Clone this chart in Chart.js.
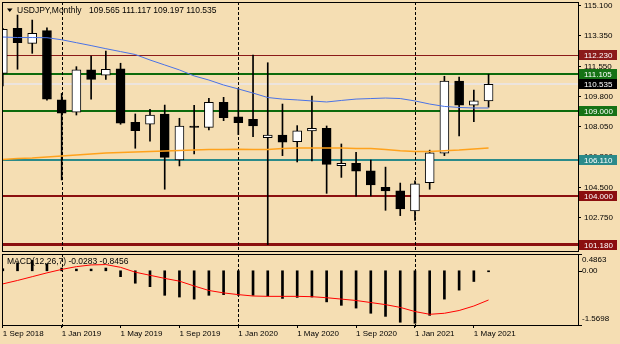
<!DOCTYPE html>
<html>
<head>
<meta charset="utf-8">
<script src="https://cdn.jsdelivr.net/npm/chart.js@4.4.1/dist/chart.umd.min.js"></script>
<style>
  html, body { margin: 0; padding: 0; background: #f5deb3; }
  #wrap { position: relative; width: 620px; height: 344px; overflow: hidden; }
  canvas { position: absolute; left: 0; }
  #price { top: 0; }
  #macd { top: 252px; }
</style>
</head>
<body>
<div id="wrap">
  <canvas id="price" width="620" height="252"></canvas>
  <canvas id="macd" width="620" height="92"></canvas>
</div>
<script>
// USDJPY monthly, Sep 2018 .. Jun 2021
const dateLabels = ['1 Sep 2018', '1 Jan 2019', '1 May 2019', '1 Sep 2019', '1 Jan 2020',
                    '1 May 2020', '1 Sep 2020', '1 Jan 2021', '1 May 2021'];
const dateTickIdx = [0, 4, 8, 12, 16, 20, 24, 28, 32];
const yearStarts = [4, 16, 28];

const opens  = [111.17, 113.80, 112.92, 113.66, 109.62, 108.90, 111.37, 111.06, 111.44, 108.31,
                108.20, 108.80, 106.12, 108.10, 108.02, 109.48, 108.64, 108.49, 107.42, 107.57,
                107.18, 107.81, 107.96, 105.78, 105.92, 105.49, 104.52, 104.31, 103.14, 104.79,
                106.51, 110.72, 109.31, 109.565];
const highs  = [113.80, 114.57, 114.28, 113.83, 110.00, 111.56, 112.18, 112.47, 111.76, 108.80,
                109.07, 109.32, 108.55, 109.30, 109.71, 109.77, 110.30, 112.23, 111.79, 109.38,
                108.12, 109.85, 108.10, 107.05, 106.56, 106.11, 105.70, 104.77, 104.90, 106.69,
                111.00, 110.96, 110.20, 111.117];
const lows   = [110.43, 111.41, 112.34, 109.60, 104.95, 108.74, 109.66, 110.82, 108.20, 106.80,
                107.22, 104.41, 105.77, 106.47, 107.87, 108.41, 107.60, 107.47, 101.18, 106.37,
                106.00, 106.06, 104.17, 105.10, 104.00, 104.02, 103.18, 102.87, 102.59, 104.41,
                106.37, 107.52, 108.35, 109.197];
const closes = [113.74, 112.96, 113.51, 109.66, 108.84, 111.37, 110.82, 111.41, 108.26, 107.82,
                108.74, 106.27, 108.10, 108.02, 109.48, 108.58, 108.29, 108.10, 107.57, 107.15,
                107.82, 107.96, 105.86, 105.92, 105.47, 104.66, 104.31, 103.26, 104.72, 106.54,
                110.72, 109.31, 109.57, 110.535];

const maFast = [113.29, 113.26, 113.26, 113.25, 113.13, 112.96, 112.79, 112.61, 112.44, 112.27,
                111.95, 111.66, 111.37, 111.02, 110.78, 110.49, 110.26, 110.02, 109.76, 109.67,
                109.62, 109.56, 109.50, 109.59, 109.67, 109.70, 109.73, 109.70, 109.56, 109.38,
                109.24, 109.18, 109.15, 109.15];
const maSlow = [106.14, 106.20, 106.23, 106.29, 106.35, 106.41, 106.47, 106.52, 106.55, 106.58,
                106.61, 106.64, 106.67, 106.70, 106.73, 106.73, 106.74, 106.73, 106.73, 106.79,
                106.82, 106.82, 106.82, 106.82, 106.79, 106.79, 106.73, 106.66, 106.61, 106.61,
                106.66, 106.70, 106.76, 106.82];

const macdHist   = [0.06, 0.23, 0.30, 0.20, 0.08, 0.05, 0.05, 0.08, -0.17, -0.36,
                    -0.46, -0.71, -0.76, -0.82, -0.71, -0.69, -0.71, -0.71, -0.73, -0.80,
                    -0.77, -0.76, -0.90, -1.00, -1.08, -1.23, -1.32, -1.49, -1.52, -1.29,
                    -0.82, -0.56, -0.31, -0.0283];
const macdSignal = [-0.38, -0.28, -0.17, -0.06, 0.04, 0.12, 0.17, 0.18, 0.10, -0.04,
                    -0.13, -0.22, -0.30, -0.44, -0.57, -0.64, -0.69, -0.73, -0.74, -0.74,
                    -0.74, -0.75, -0.78, -0.82, -0.86, -0.92, -0.98, -1.06, -1.18, -1.26,
                    -1.23, -1.15, -1.02, -0.8456];

const priceTicks = [115.1, 113.35, 111.55, 109.8, 108.05, 106.3, 104.5, 102.75, 101.0];
const levelPrices = [112.23, 111.105, 110.535, 109.0, 106.11, 104.0, 101.18];
const macdTicks = [0.4863, 0, -1.5698];

// line colour / thickness / label box for each horizontal level
const levelStyle = [
  { line: '#8b1a1a', width: 1, box: '#8b1a1a' },
  { line: '#0c6a0c', width: 2, box: '#157215' },
  { line: '#ece4de', width: 2, box: '#000000' },
  { line: '#0c6a0c', width: 2, box: '#157215' },
  { line: '#2a8a8a', width: 2, box: '#2a8a8a' },
  { line: '#8b0f0f', width: 2, box: '#8b0f0f' },
  { line: '#8b0f0f', width: 3, box: '#8b0f0f' }
];

const FONT = '"Liberation Sans", Arial, sans-serif';
const X_MIN = -0.054, X_MAX = 39.076;
const idx = opens.map((_, i) => i);

function drawSeparators(ctx, x, top, bottom) {
  ctx.save();
  ctx.strokeStyle = '#000';
  ctx.lineWidth = 1;
  ctx.setLineDash([3, 2]);
  yearStarts.forEach(i => {
    const px = Math.round(x.getPixelForValue(i)) + 0.5;
    ctx.beginPath();
    ctx.moveTo(px, top);
    ctx.lineTo(px, bottom);
    ctx.stroke();
  });
  ctx.restore();
}

function drawFrame(ctx, a) {
  ctx.save();
  ctx.strokeStyle = '#000';
  ctx.lineWidth = 1;
  ctx.strokeRect(a.left + 0.5, a.top + 0.5, a.right - a.left, a.bottom - a.top);
  ctx.restore();
}

const pricePanel = {
  id: 'pricePanel',
  beforeDatasetsDraw(chart) {
    const { ctx, chartArea: a, scales: { x, y } } = chart;
    ctx.save();
    ctx.beginPath();
    ctx.rect(a.left, a.top, a.right - a.left, a.bottom - a.top);
    ctx.clip();
    levelPrices.forEach((p, k) => {
      const w = levelStyle[k].width;
      ctx.fillStyle = levelStyle[k].line;
      ctx.fillRect(a.left, Math.round(y.getPixelForValue(p) - w / 2), a.right - a.left, w);
    });
    drawSeparators(ctx, x, a.top, a.bottom);
    ctx.restore();
  },
  afterDraw(chart) {
    const { ctx, chartArea: a, scales: { y } } = chart;
    drawFrame(ctx, a);

    // symbol header
    ctx.save();
    ctx.fillStyle = '#000';
    ctx.beginPath();
    ctx.moveTo(7, 8.5); ctx.lineTo(12.5, 8.5); ctx.lineTo(9.75, 12);
    ctx.closePath();
    ctx.fill();
    ctx.font = '8.5px ' + FONT;
    ctx.textBaseline = 'middle';
    ctx.fillText('USDJPY,Monthly', 17, 10.5);
    const last = opens.length - 1;
    ctx.fillText([opens[last], highs[last], lows[last], closes[last]].map(v => v.toFixed(3)).join(' '), 89, 10.5);

    // price boxes on the right scale
    ctx.font = '8px ' + FONT;
    levelPrices.forEach((p, k) => {
      const py = Math.round(y.getPixelForValue(p));
      ctx.fillStyle = levelStyle[k].box;
      ctx.fillRect(a.right + 1, py - 5, 38, 10);
      ctx.fillStyle = '#fff';
      ctx.fillText(p.toFixed(3), a.right + 6, py + 0.5);
    });
    ctx.restore();
  }
};

new Chart(document.getElementById('price'), {
  type: 'bar',
  data: {
    datasets: [
      {
        type: 'line', data: idx.map(i => ({ x: i, y: maFast[i] })),
        borderColor: '#4a72e6', borderWidth: 1, pointRadius: 0, order: 0
      },
      {
        type: 'line', data: idx.map(i => ({ x: i, y: maSlow[i] })),
        borderColor: '#ffa21c', borderWidth: 1.5, pointRadius: 0, order: 1
      },
      {
        data: idx.map(i => ({ x: i, y: [Math.min(opens[i], closes[i]), Math.max(opens[i], closes[i])] })),
        backgroundColor: idx.map(i => closes[i] >= opens[i] ? '#ffffff' : '#000000'),
        borderColor: '#000', borderWidth: 1, borderSkipped: false,
        barThickness: 9, grouped: false, order: 2
      },
      {
        data: idx.map(i => ({ x: i, y: [lows[i], highs[i]] })),
        backgroundColor: '#000', barThickness: 1, grouped: false, order: 3
      }
    ]
  },
  options: {
    responsive: false,
    animation: false,
    layout: { padding: { left: 2, top: 2, right: 0, bottom: 1 } },
    plugins: { legend: { display: false }, tooltip: { enabled: false } },
    scales: {
      x: { type: 'linear', min: X_MIN, max: X_MAX, offset: false, display: false },
      y: {
        position: 'right', min: 100.806, max: 115.333,
        afterBuildTicks: s => { s.ticks = priceTicks.map(v => ({ value: v })); },
        afterFit: s => { s.width = 42; s.paddingTop = 0; s.paddingBottom = 0; },
        grid: { drawOnChartArea: false, tickLength: 3, color: '#000' },
        border: { display: false },
        ticks: {
          padding: 3, color: '#000', font: { family: FONT, size: 8 },
          callback: v => v.toFixed(3)
        }
      }
    }
  },
  plugins: [pricePanel]
});

const macdPanel = {
  id: 'macdPanel',
  beforeDatasetsDraw(chart) {
    const { ctx, chartArea: a, scales: { x } } = chart;
    drawSeparators(ctx, x, a.top, a.bottom + 3);
  },
  afterDraw(chart) {
    const { ctx, chartArea: a, scales: { y } } = chart;
    drawFrame(ctx, a);
    ctx.save();
    ctx.fillStyle = '#000';
    ctx.font = '8.5px ' + FONT;
    ctx.textBaseline = 'middle';
    const last = macdHist.length - 1;
    ctx.fillText('MACD(12,26,7) ' + macdHist[last].toFixed(4) + ' ' + macdSignal[last].toFixed(4), 7, 9.5);

    ctx.font = '8px ' + FONT;
    macdTicks.forEach(v => {
      const py = y.getPixelForValue(v);
      ctx.fillRect(a.right + 1, Math.round(py), 3, 1);
      const ly = Math.min(Math.max(py, a.top + 5.5), a.bottom - 6);
      ctx.fillText(v === 0 ? '0.00' : v.toFixed(4), a.right + 4, ly);
    });
    ctx.restore();
  }
};

new Chart(document.getElementById('macd'), {
  type: 'bar',
  data: {
    datasets: [
      {
        type: 'line', data: idx.map(i => ({ x: i, y: macdSignal[i] })),
        borderColor: '#ff0000', borderWidth: 1, pointRadius: 0, order: 0
      },
      {
        data: idx.map(i => ({ x: i, y: macdHist[i] })),
        backgroundColor: '#000', barThickness: 2, grouped: false, order: 1
      }
    ]
  },
  options: {
    responsive: false,
    animation: false,
    layout: { padding: { left: 2, top: 2, right: 42, bottom: 0 } },
    plugins: { legend: { display: false }, tooltip: { enabled: false } },
    scales: {
      x: {
        type: 'linear', min: X_MIN, max: X_MAX, offset: false,
        afterBuildTicks: s => { s.ticks = dateTickIdx.map(v => ({ value: v })); },
        afterFit: s => { s.height = 19; s.paddingLeft = 0; s.paddingRight = 0; },
        grid: { drawOnChartArea: false, tickLength: 3, color: '#000', offset: false },
        border: { display: false },
        ticks: {
          autoSkip: false, maxRotation: 0, minRotation: 0, align: 'start', padding: 1,
          color: '#000', font: { family: FONT, size: 8 },
          callback: (v, i) => dateLabels[i]
        }
      },
      y: { min: -1.5698, max: 0.4863, display: false }
    }
  },
  plugins: [macdPanel]
});
</script>
</body>
</html>
